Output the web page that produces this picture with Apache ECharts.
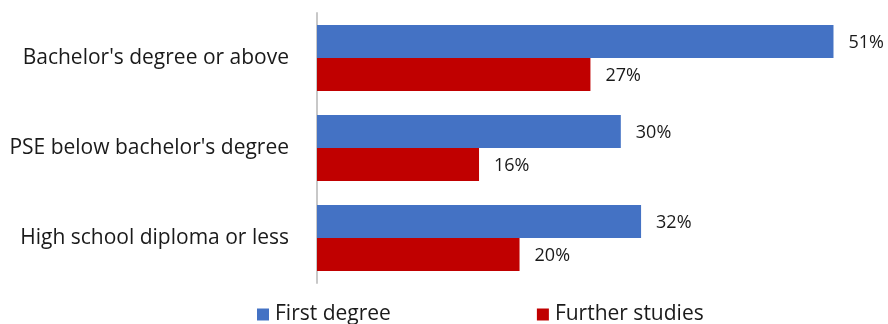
<!DOCTYPE html>
<html>
<head>
<meta charset="utf-8">
<script src="https://cdn.jsdelivr.net/npm/echarts@6/dist/echarts.min.js"></script>
<style>
  html, body { margin: 0; padding: 0; background: #fff; }
  #chart { width: 888px; height: 324px; }
</style>
</head>
<body>
<div id="chart"></div>
<script>
// Education level of respondents, share by outcome
const categories = ["Bachelor's degree or above", "PSE below bachelor's degree", "High school diploma or less"];
const seriesNames = ["First degree", "Further studies"];
const firstDegree = [51, 30, 32];
const furtherStudies = [27, 16, 20];

const FONT = '"Open Sans"';
const TEXT = '#1a1a1a';

const chart = echarts.init(document.getElementById('chart'), null, { renderer: 'canvas' });

const labelStyle = {
  show: true,
  position: 'right',
  distance: 15,
  offset: [0, 1],
  formatter: p => p.value + '%',
  fontFamily: FONT,
  fontSize: 18,
  color: TEXT
};

chart.setOption({
  animation: false,
  grid: { left: 317, top: 13, width: 557, height: 270, containLabel: false },
  xAxis: {
    type: 'value', min: 0, max: 55,
    show: false
  },
  yAxis: {
    type: 'category',
    data: categories,
    inverse: true,
    axisLine: { show: true, lineStyle: { color: '#c8c8c8', width: 2 } },
    axisTick: { show: false },
    axisLabel: { margin: 28, fontFamily: FONT, fontSize: 21, color: TEXT }
  },
  legend: {
    top: 299,
    left: 252,
    itemWidth: 12,
    itemHeight: 12,
    itemGap: 146,
    icon: 'rect',
    textStyle: { fontFamily: FONT, fontSize: 21, color: TEXT, padding: [0, 0, 0, 1] },
    data: seriesNames
  },
  series: [
    {
      name: seriesNames[0], type: 'bar', data: firstDegree,
      barCategoryGap: '26.7%', barGap: '0%',
      itemStyle: { color: '#4472C4' },
      label: labelStyle
    },
    {
      name: seriesNames[1], type: 'bar', data: furtherStudies,
      barCategoryGap: '26.7%', barGap: '0%',
      itemStyle: { color: '#C00000' },
      label: labelStyle
    }
  ]
});
</script>
</body>
</html>
